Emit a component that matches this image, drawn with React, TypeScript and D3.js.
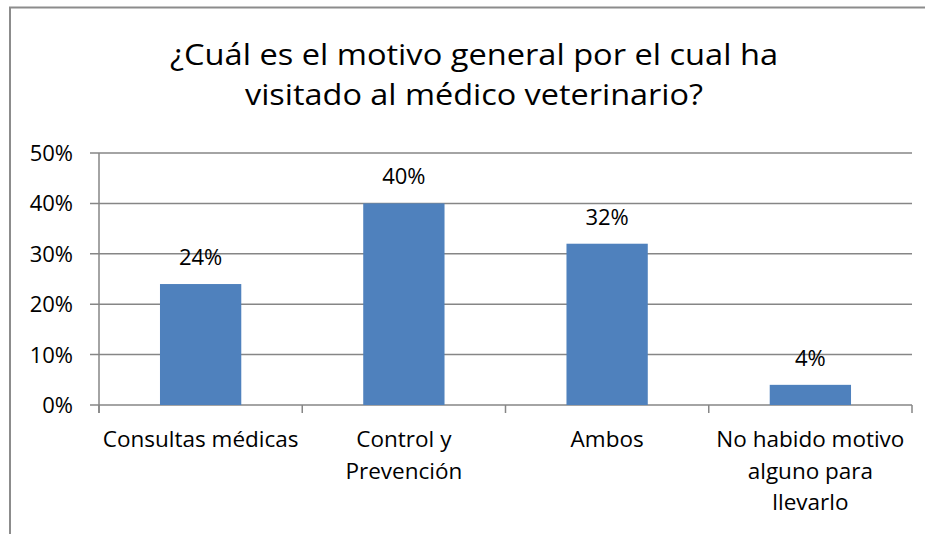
import React from "react";
import * as d3 from "d3";

const categories: string[][] = [
  ["Consultas médicas"],
  ["Control y", "Prevención"],
  ["Ambos"],
  ["No habido motivo", "alguno para", "llevarlo"],
];
const values: number[] = [0.24, 0.4, 0.32, 0.04];
const yTicks: number[] = [0, 0.1, 0.2, 0.3, 0.4, 0.5];
const titleLines: string[] = [
  "¿Cuál es el motivo general por el cual ha",
  "visitado al médico veterinario?",
];
const titleWidths: number[] = [608, 458];

const W = 925;
const H = 534;
const FONT = "'Open Sans', sans-serif";

export default function App() {
  const left = 99;
  const right = 912;
  const top = 153;
  const bottom = 405;
  const xb = d3
    .scaleBand<number>()
    .domain(categories.map((_, i) => i))
    .range([left, right]);
  const y = d3.scaleLinear().domain([0, 0.5]).range([bottom, top]);
  const fmt = d3.format(".0%");
  const grid = "#868686";
  const bounds = [left, ...categories.map((_, i) => (xb(i) as number) + xb.bandwidth())];

  return (
    <svg
      width={W}
      height={H}
      style={{ position: "absolute", left: 0, top: 0, background: "#fff", fontVariantLigatures: "none" }}
      fontFamily={FONT}
    >
      <rect x={0} y={0} width={W} height={H} fill="#fff" />
      <path d={`M10,${H} V7.5 H${W}`} fill="none" stroke="#8c8c8c" strokeWidth={2} />
      {titleLines.map((t, i) => (
        <text
          key={i}
          x={474}
          y={65 + i * 40}
          textAnchor="middle"
          fontSize={29}
          fill="#000"
          textLength={titleWidths[i]}
          lengthAdjust="spacingAndGlyphs"
        >
          {t}
        </text>
      ))}
      {yTicks.map((t) => (
        <g key={t}>
          <line x1={90} x2={right} y1={y(t)} y2={y(t)} stroke={grid} strokeWidth={1.5} />
          <text x={73} y={y(t) + 8} textAnchor="end" fontSize={22} fill="#000">
            {fmt(t)}
          </text>
        </g>
      ))}
      <line x1={left} x2={left} y1={top} y2={bottom + 8} stroke={grid} strokeWidth={1.5} />
      {bounds.map((b, i) => (
        <line key={i} x1={b} x2={b} y1={bottom} y2={bottom + 8} stroke={grid} strokeWidth={1.5} />
      ))}
      {values.map((v, i) => {
        const bw = xb.bandwidth() / 2.5;
        const cx = (xb(i) as number) + xb.bandwidth() / 2;
        return (
          <g key={i}>
            <rect x={cx - bw / 2} y={y(v)} width={bw} height={bottom - y(v)} fill="#4F81BD" />
            <text x={cx} y={y(v) - 19} textAnchor="middle" fontSize={22} fill="#000">
              {fmt(v)}
            </text>
          </g>
        );
      })}
      {categories.map((lines, i) => {
        const cx = (xb(i) as number) + xb.bandwidth() / 2;
        return (
          <text key={i} textAnchor="middle" fontSize={22.5} fill="#000">
            {lines.map((l, j) => (
              <tspan key={j} x={cx} y={447 + j * 31.5}>
                {l}
              </tspan>
            ))}
          </text>
        );
      })}
    </svg>
  );
}
